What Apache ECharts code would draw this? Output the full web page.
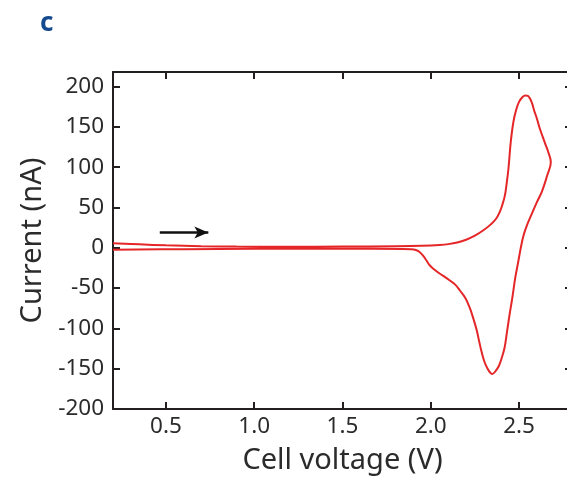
<!DOCTYPE html>
<html>
<head>
<meta charset="utf-8">
<script src="https://cdn.jsdelivr.net/npm/echarts@6/dist/echarts.min.js"></script>
<style>
  html, body { margin: 0; padding: 0; background: #fff; overflow: hidden; }
  #chart { width: 567px; height: 483px; }
</style>
</head>
<body>
<div id="chart"></div>
<script>
// Cyclic voltammogram: voltage (V) vs current (nA)
const forwardScan = [
  [0.20, 5.5], [0.35, 4.2], [0.50, 3.0], [0.70, 2.0], [0.90, 1.5], [1.20, 1.3],
  [1.50, 1.5], [1.80, 2.0], [1.95, 2.6], [2.05, 3.5], [2.10, 4.5], [2.15, 6.5],
  [2.20, 10], [2.25, 15], [2.30, 22], [2.34, 29], [2.37, 36], [2.39, 44],
  [2.405, 53], [2.42, 65], [2.43, 80], [2.44, 98], [2.453, 131], [2.468, 156],
  [2.485, 172], [2.50, 181], [2.52, 187], [2.535, 189], [2.55, 188.5], [2.562, 185],
  [2.574, 179], [2.586, 170], [2.60, 161], [2.619, 147], [2.645, 131], [2.665, 119],
  [2.68, 106]
];
const reverseScan = [
  [2.66, 90], [2.63, 70], [2.60, 56], [2.57, 41], [2.545, 28], [2.525, 15],
  [2.51, 0], [2.495, -18], [2.478, -38], [2.462, -62], [2.447, -82], [2.432, -104],
  [2.418, -124], [2.40, -138], [2.385, -147], [2.37, -152], [2.357, -155.5],
  [2.347, -156.5], [2.337, -155], [2.322, -150], [2.305, -142], [2.29, -131],
  [2.275, -117], [2.26, -102], [2.24, -87], [2.22, -74], [2.195, -62], [2.165, -53],
  [2.14, -46], [2.11, -41], [2.085, -37], [2.05, -32], [2.02, -27], [1.995, -22],
  [1.975, -15.5], [1.955, -9.5], [1.935, -5], [1.915, -2.8], [1.89, -1.8],
  [1.84, -1.4], [1.50, -1.3], [1.00, -1.3], [0.60, -1.7], [0.20, -2.5]
];
const scanArrow = [[0.465, 19], [0.74, 19]];
const xTicks = [0.5, 1.0, 1.5, 2.0, 2.5];
const yTicks = [-200, -150, -100, -50, 0, 50, 100, 150, 200];

const X_MIN = 0.2, X_MAX = 2.8, Y_MIN = -200, Y_MAX = 218;
const ink = '#231f20';
const textInk = '#2b2b2b';
const labelFont = { fontFamily: 'Noto Sans', fontSize: 22.5, color: textInk };
const nameFont = { fontFamily: 'Noto Sans', fontSize: 29, color: textInk };

const chart = echarts.init(document.getElementById('chart'), null, { renderer: 'canvas' });

function tickStyle(values) {
  return { show: true, inside: true, length: 7, customValues: values, lineStyle: { color: ink, width: 2 } };
}
const frameLine = { show: true, onZero: false, lineStyle: { color: ink, width: 2 } };

chart.setOption({
  animation: false,
  backgroundColor: '#ffffff',
  // the plot box runs a little past the right edge of the canvas
  grid: { left: 113, top: 72, right: -5, bottom: 74, containLabel: false, outerBoundsMode: 'none' },
  graphic: [{
    type: 'text', x: 40, y: 24,
    style: { text: 'c', font: 'bold 26px "Noto Sans"', fill: '#154a8e', textVerticalAlign: 'middle', verticalAlign: 'middle' }
  }],
  xAxis: [
    {
      type: 'value', position: 'bottom', min: X_MIN, max: X_MAX,
      axisLine: frameLine, axisTick: tickStyle(xTicks), splitLine: { show: false },
      axisLabel: Object.assign({ margin: 6, customValues: xTicks, formatter: v => v.toFixed(1) }, labelFont),
      name: 'Cell voltage (V)', nameLocation: 'middle', nameGap: 37,
      nameTextStyle: nameFont
    },
    {
      type: 'value', position: 'top', min: X_MIN, max: X_MAX,
      axisLine: frameLine, axisTick: tickStyle(xTicks), splitLine: { show: false },
      axisLabel: { show: false }
    }
  ],
  yAxis: [
    {
      type: 'value', position: 'left', min: Y_MIN, max: Y_MAX,
      axisLine: frameLine, axisTick: tickStyle(yTicks), splitLine: { show: false },
      axisLabel: Object.assign({ margin: 9, customValues: yTicks }, labelFont),
      name: 'Current (nA)', nameLocation: 'middle', nameGap: 62, nameRotate: 90,
      nameTextStyle: nameFont
    },
    {
      type: 'value', position: 'right', min: Y_MIN, max: Y_MAX,
      axisLine: frameLine, axisTick: tickStyle(yTicks), splitLine: { show: false },
      axisLabel: { show: false }
    }
  ],
  series: [
    {
      type: 'line',
      xAxisIndex: 0, yAxisIndex: 0,
      data: forwardScan.concat(reverseScan),
      showSymbol: false,
      smooth: 0.4,
      lineStyle: { color: '#e52628', width: 2 },
      silent: true,
      markLine: {
        silent: true,
        symbol: ['none', 'arrow'],
        symbolSize: [9, 14],
        label: { show: false },
        lineStyle: { color: '#111', width: 2.5, type: 'solid' },
        data: [[{ coord: scanArrow[0] }, { coord: scanArrow[1] }]]
      }
    }
  ]
});
</script>
</body>
</html>
